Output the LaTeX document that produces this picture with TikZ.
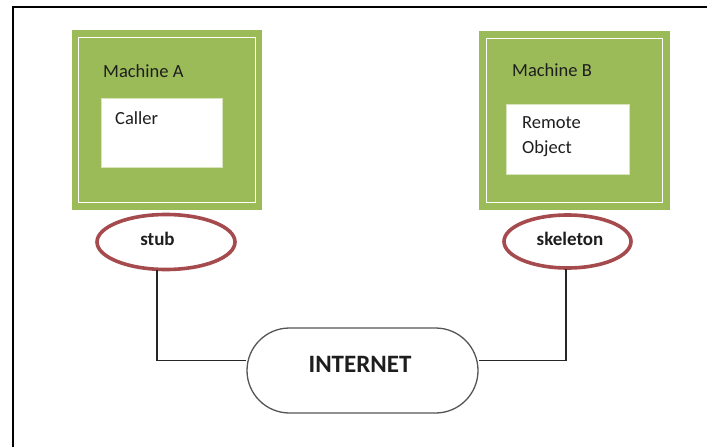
\documentclass[tikz,border=0pt]{standalone}
\usepackage{fontspec}
\setmainfont{Carlito}
\usetikzlibrary{shapes.geometric,shapes.misc}
\definecolor{mgreen}{RGB}{155,187,89}
\definecolor{paleg}{RGB}{216,228,188}
\definecolor{ered}{RGB}{165,75,78}
\definecolor{igray}{RGB}{85,85,85}
\definecolor{txt}{RGB}{30,30,30}
\begin{document}
\begin{tikzpicture}[x=1pt,y=-1pt,
  machine/.style={rectangle,fill=mgreen,draw=none,inner sep=0pt},
  inbox/.style={rectangle,fill=white,draw=paleg,line width=1pt,inner sep=0pt},
  lbl/.style={font=\fontsize{18.5}{22}\selectfont,text=txt,inner sep=0pt,anchor=base west},
  proxy/.style={ellipse,draw=ered,line width=3.6pt,fill=white,inner sep=0pt},
  ptxt/.style={font=\fontsize{19}{22}\selectfont\bfseries,text=txt,inner sep=0pt,anchor=base},
  net/.style={rounded rectangle,draw=igray,line width=1.3pt,fill=white,inner sep=0pt,minimum width=231pt,minimum height=85pt},
  wire/.style={draw=black!85,line width=1.2pt}]
\useasboundingbox (0,0) rectangle (707,447);
\fill[white] (0,0) rectangle (707,447);
\draw[line width=2.5pt] (13,447) -- (13,7) -- (707,7);
% Machine A
\node[machine,minimum width=190pt,minimum height=180pt] (ma) at (167,120) {};
\draw[white,line width=1.6pt] (78.5,37.5) rectangle (255.5,202.5);
\node[inbox,minimum width=121pt,minimum height=69pt] (ca) at (161.5,132.5) {};
\node[lbl] (mat) at (103,77) {Machine A};
\node[lbl] (cat) at (115,124) {Caller};
% Machine B
\node[machine,minimum width=191pt,minimum height=179pt] (mb) at (574.5,120.5) {};
\draw[white,line width=1.6pt] (486.5,38.5) rectangle (662.5,202.5);
\node[inbox,minimum width=123pt,minimum height=70pt] (ro) at (567.5,139) {};
\node[lbl] (mbt) at (512,76) {Machine B};
\node[lbl,align=left,font=\fontsize{18.5}{25}\selectfont,anchor=north west] (rot) at (522,116) {Remote\\Object};
% proxies
\node[proxy,minimum width=138pt,minimum height=55pt] (stub) at (166,242) {};
\node[ptxt] (stubt) at (157.5,245) {stub};
\node[proxy,minimum width=127pt,minimum height=53pt] (skel) at (567.5,241.5) {};
\node[ptxt] (skelt) at (570,245) {skeleton};
% internet
\node[net] (inet) at (362.5,370.5) {};
\node[font=\fontsize{25}{28}\selectfont\bfseries,text=txt,inner sep=0pt,anchor=base] (inett) at (360,372) {INTERNET};
% wires
\coordinate (stubb) at (157,270);
\coordinate (skelb) at (566,269);
\draw[wire] (stubb) |- ([yshift=10pt]inet.west);
\draw[wire] (skelb) |- ([yshift=10pt]inet.east);
\end{tikzpicture}
\end{document}
